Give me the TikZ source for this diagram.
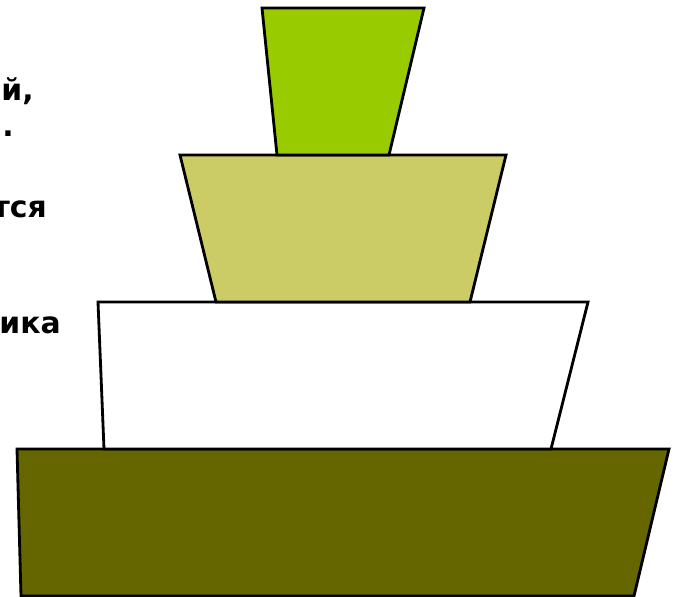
\documentclass[tikz,border=0pt]{standalone}
\usepackage{fontspec}
\setmainfont{DejaVu Sans}
\usetikzlibrary{positioning}
\definecolor{tierLime}{RGB}{153, 204, 0}
\definecolor{tierKhaki}{RGB}{204, 204, 102}
\definecolor{tierOlive}{RGB}{102, 102, 0}

\begin{document}
\begin{tikzpicture}[
  x=0.03cm,
  y=-0.03cm,
  tier/.style={
    draw=black,
    line width=2.4pt,
    line join=miter
  },
  fragment/.style={
    anchor=base east,
    inner sep=0pt,
    font=\fontsize{25.5}{30}\selectfont\bfseries
  }
]
  \useasboundingbox (0,0) rectangle (678,597);
  % pyramid tiers, bottom to top
  \draw[tier,fill=tierOlive] (17,449) -- (669,449) -- (634,596) -- (21,596) -- cycle;
  \draw[tier,fill=white] (98,302) -- (588,302) -- (551,449) -- (104,449) -- cycle;
  \draw[tier,fill=tierKhaki] (180,155) -- (506,155) -- (470,302) -- (216,302) -- cycle;
  \draw[tier,fill=tierLime] (262,8) -- (424,8) -- (389,155) -- (277,155) -- cycle;
  % cut-off text on the left
  \node[fragment] (line1) at (34,101) {й,};
  \node[fragment] (line2) at (14,137) {.};
  \node[fragment] (line3) at (47,218) {тся};
  \node[fragment] (line4) at (61,333) {ика};
\end{tikzpicture}
\end{document}
